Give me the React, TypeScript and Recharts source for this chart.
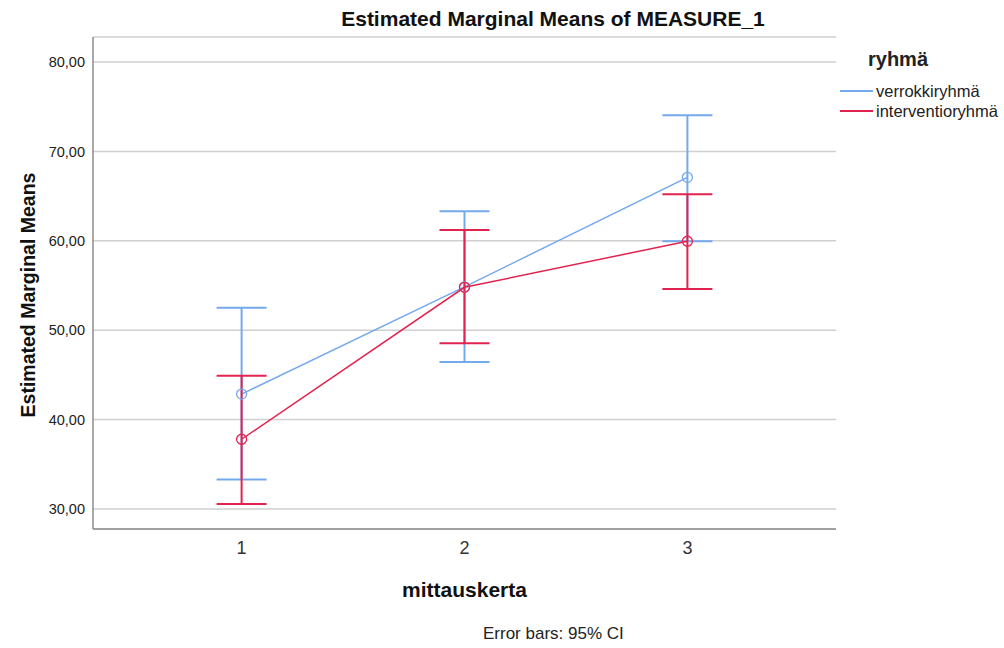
import React from 'react'
import {
    LineChart,
    Line,
    XAxis,
    YAxis,
    CartesianGrid,
    ErrorBar,
} from 'recharts'

const FONT = '"Liberation Sans", Arial, sans-serif'

const mittauskerta = [1, 2, 3]
const yTicks = [30, 40, 50, 60, 70, 80]

const verrokkiMean = [42.85, 54.85, 67.1]
const verrokkiLow = [33.3, 46.45, 59.95]
const verrokkiHigh = [52.5, 63.3, 74.05]

const interventioMean = [37.8, 54.8, 59.95]
const interventioLow = [30.55, 48.55, 54.6]
const interventioHigh = [44.9, 61.2, 65.2]

const BLUE = '#74a9ec'
const RED = '#e2234f'

const series = [
    { key: 'verrokki', name: 'verrokkiryhmä', color: BLUE },
    { key: 'interventio', name: 'interventioryhmä', color: RED },
]

const chartData = mittauskerta.map((m, i) => ({
    m,
    verrokki: verrokkiMean[i],
    verrokkiErr: [verrokkiMean[i] - verrokkiLow[i], verrokkiHigh[i] - verrokkiMean[i]],
    interventio: interventioMean[i],
    interventioErr: [interventioMean[i] - interventioLow[i], interventioHigh[i] - interventioMean[i]],
}))

function HollowDot({ cx, cy, stroke }: { cx?: number; cy?: number; stroke?: string }) {
    if (cx == null || cy == null) return null
    return <circle cx={cx} cy={cy} r={5} fill="none" stroke={stroke} strokeWidth={1.3} />
}

// legend drawn outside the chart so it doesn't eat plot width
function LegendBox() {
    return (
        <div style={{ position: 'absolute', left: 840, top: 46, fontFamily: FONT, color: '#222' }}>
            <div style={{ fontWeight: 'bold', fontSize: 20, marginLeft: 28, height: 26, lineHeight: '26px', marginBottom: 9 }}>ryhmä</div>
            {series.map((s) => (
                <div key={s.key} style={{ display: 'flex', alignItems: 'center', height: 20, fontSize: 16.5, whiteSpace: 'nowrap' }}>
                    <span style={{ display: 'inline-block', width: 33, height: 2, background: s.color, marginRight: 3 }} />
                    {s.name}
                </div>
            ))}
        </div>
    )
}

export default function App() {
    return (
        <div style={{ position: 'absolute', left: 0, top: 0, width: 1004, height: 648, background: '#fff', fontFamily: FONT }}>
            <div
                style={{
                    position: 'absolute', left: 553, top: 6, transform: 'translateX(-50%)',
                    fontWeight: 'bold', fontSize: 21, lineHeight: '26px', color: '#111', whiteSpace: 'nowrap',
                }}
            >
                Estimated Marginal Means of MEASURE_1
            </div>
            <LineChart
                width={1004}
                height={648}
                data={chartData}
                margin={{ top: 37, right: 168, bottom: 79, left: 0 }}
            >
                <CartesianGrid vertical={false} stroke="#cfcfcf" strokeWidth={1.5} />
                <XAxis
                    dataKey="m"
                    type="number"
                    domain={[1 / 3, 11 / 3]}
                    ticks={mittauskerta}
                    height={40}
                    tickLine={false}
                    axisLine={{ stroke: '#8c8c8c', strokeWidth: 1.5 }}
                    tick={{ fill: '#333', fontSize: 18, fontFamily: FONT }}
                    tickMargin={6}
                    label={{
                        value: 'mittauskerta',
                        position: 'bottom',
                        offset: 13,
                        style: { fontWeight: 'bold', fontSize: 21, fill: '#111', fontFamily: FONT },
                    }}
                />
                <YAxis
                    type="number"
                    domain={[27.76, 82.8]}
                    ticks={yTicks}
                    width={93}
                    tickLine={false}
                    axisLine={{ stroke: '#8c8c8c', strokeWidth: 1.5 }}
                    tick={{ fill: '#222', fontSize: 14.5, fontFamily: FONT }}
                    tickFormatter={(v) => `${v},00`}
                    label={{
                        content: () => (
                            <text
                                x={28}
                                y={295}
                                transform="rotate(-90 28 295)"
                                textAnchor="middle"
                                dominantBaseline="central"
                                style={{ fontWeight: 'bold', fontSize: 19.5, fill: '#111', fontFamily: FONT }}
                            >
                                Estimated Marginal Means
                            </text>
                        ),
                    }}
                />
                {series.map((s) => (
                    <Line
                        key={s.key}
                        type="linear"
                        dataKey={s.key}
                        name={s.name}
                        stroke={s.color}
                        strokeWidth={1.5}
                        dot={<HollowDot stroke={s.color} />}
                        activeDot={false}
                        isAnimationActive={false}
                    >
                        <ErrorBar dataKey={`${s.key}Err`} width={25} stroke={s.color} strokeWidth={2} direction="y" />
                    </Line>
                ))}
            </LineChart>
            <LegendBox />
            <div
                style={{
                    position: 'absolute', left: 483, top: 624, fontSize: 17, lineHeight: '20px', color: '#222', whiteSpace: 'nowrap',
                }}
            >
                Error bars: 95% CI
            </div>
        </div>
    )
}
